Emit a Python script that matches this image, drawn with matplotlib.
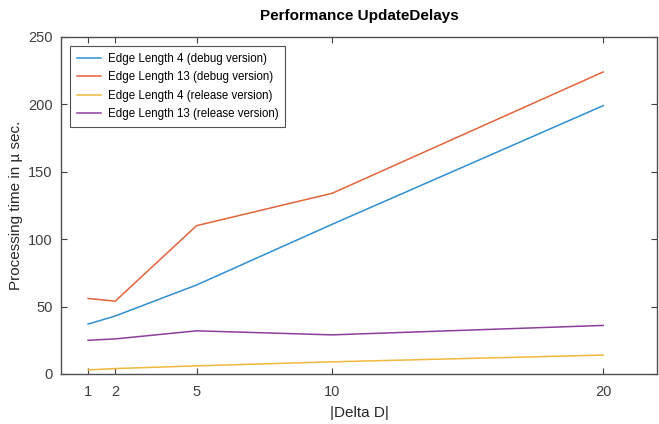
import matplotlib
matplotlib.use("Agg")
import matplotlib.pyplot as plt

x = [1, 2, 5, 10, 20]
edge4_debug = [37, 43, 66, 111, 199]
edge13_debug = [56, 54, 110, 134, 224]
edge4_release = [3, 4, 6, 9, 14]
edge13_release = [25, 26, 32, 29, 36]
labels = ["Edge Length 4 (debug version)", "Edge Length 13 (debug version)",
          "Edge Length 4 (release version)", "Edge Length 13 (release version)"]
colors = ["#2E8FD2", "#E2643A", "#F0B83C", "#8A3E9C"]
xticks = [1, 2, 5, 10, 20]
yticks = [0, 50, 100, 150, 200, 250]

plt.rcParams['font.family'] = ['Liberation Sans', 'DejaVu Sans']
fig = plt.figure(figsize=(6.59, 4.24), dpi=100)
ax = fig.add_axes([0.0926, 0.118, 0.905, 0.795])
for ys, lab, c in zip([edge4_debug, edge13_debug, edge4_release, edge13_release], labels, colors):
    ax.plot(x, ys, color=c, lw=1.1, label=lab)
ax.set_xlim(0, 22)
ax.set_ylim(0, 250)
ax.set_xticks(xticks)
ax.set_yticks(yticks)
ax.tick_params(direction='in', top=True, right=True, length=4, labelsize=10.5,
               colors='#404040', width=0.8)
ax.tick_params(axis='x', pad=8)
ax.tick_params(axis='y', pad=6)
for s in ax.spines.values():
    s.set_color('#505050')
    s.set_linewidth(1.0)
ax.set_xlabel('|Delta D|', fontsize=11, color='#262626', labelpad=5)
ax.set_ylabel('Processing time in µ sec.', fontsize=11, color='#262626', labelpad=4)
ax.set_title('Performance UpdateDelays', fontsize=11, fontweight='bold', pad=12)
leg = ax.legend(loc='upper left', fontsize=8.3, fancybox=False, edgecolor='#262626',
                handlelength=2.1, handletextpad=0.6, borderpad=0.6, labelspacing=0.55,
                bbox_to_anchor=(0.005, 0.99))
leg.get_frame().set_linewidth(0.8)
fig.savefig('out.png', dpi=100)
